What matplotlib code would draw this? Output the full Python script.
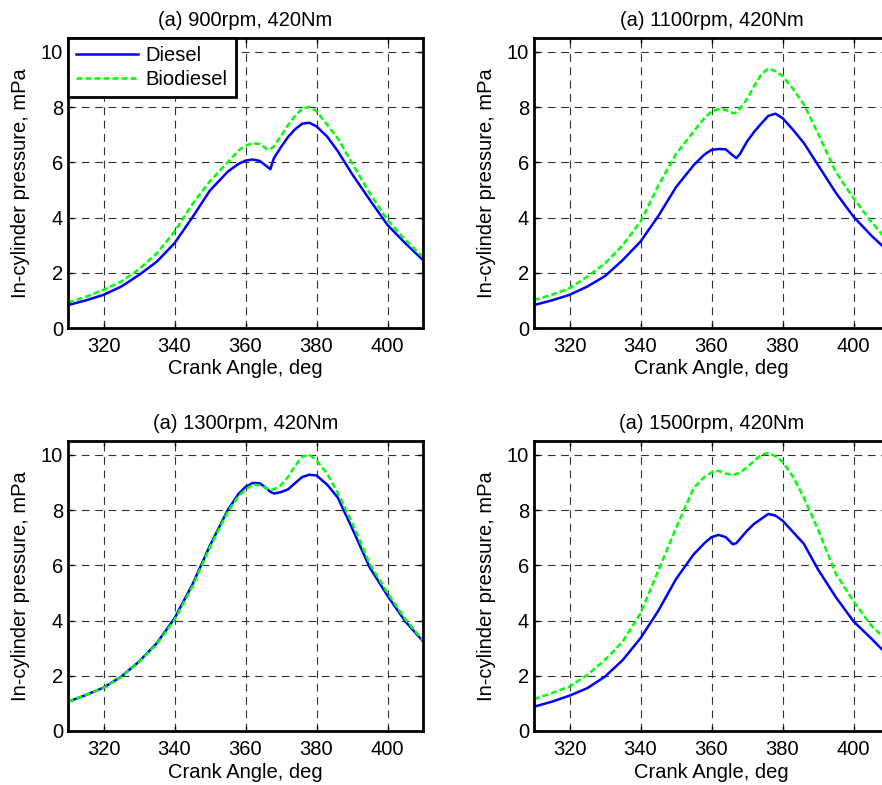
import matplotlib
matplotlib.use("Agg")
import matplotlib.pyplot as plt

plt.rcParams['font.family'] = ['Liberation Sans', 'DejaVu Sans']

# Crank angle grid (deg) shared by all traces
angle = [310, 315, 320, 325, 330, 335, 340, 345, 350, 355, 358, 360, 362, 364,
         366, 367, 368, 370, 372, 374, 376, 378, 380, 383, 386, 390, 395, 400,
         405, 410]

# In-cylinder pressure at 420 Nm for each engine speed
diesel_900 = [0.83, 1.00, 1.20, 1.50, 1.92, 2.40, 3.07, 4.00, 4.98, 5.66, 5.94,
              6.06, 6.10, 6.05, 5.85, 5.75, 6.15, 6.55, 6.92, 7.20, 7.40, 7.43,
              7.30, 6.93, 6.40, 5.58, 4.64, 3.73, 3.07, 2.46]
bio_900 = [0.92, 1.13, 1.38, 1.68, 2.13, 2.70, 3.49, 4.48, 5.32, 6.00, 6.42,
           6.60, 6.69, 6.66, 6.48, 6.47, 6.58, 6.95, 7.35, 7.68, 7.95, 8.00,
           7.85, 7.36, 6.87, 5.97, 4.88, 3.91, 3.19, 2.56]

diesel_1100 = [0.83, 1.00, 1.20, 1.50, 1.88, 2.46, 3.13, 4.05, 5.10, 5.90, 6.28,
               6.45, 6.48, 6.47, 6.25, 6.15, 6.30, 6.75, 7.10, 7.40, 7.68, 7.76,
               7.60, 7.17, 6.70, 5.90, 4.90, 4.03, 3.35, 2.75]
bio_1100 = [1.01, 1.20, 1.44, 1.86, 2.34, 3.00, 3.85, 5.15, 6.30, 7.12, 7.60,
            7.84, 7.92, 7.90, 7.78, 7.80, 7.95, 8.28, 8.76, 9.18, 9.40, 9.30,
            9.13, 8.65, 8.10, 7.05, 5.65, 4.70, 3.85, 3.10]

diesel_1300 = [1.06, 1.30, 1.57, 1.97, 2.51, 3.18, 4.08, 5.29, 6.72, 8.00, 8.58,
               8.84, 8.98, 8.97, 8.78, 8.66, 8.60, 8.65, 8.75, 8.98, 9.20, 9.28,
               9.25, 8.92, 8.45, 7.35, 5.92, 4.90, 3.97, 3.25]
bio_1300 = [1.05, 1.30, 1.56, 1.96, 2.50, 3.15, 4.02, 5.22, 6.66, 7.94, 8.50,
            8.74, 8.92, 8.90, 8.78, 8.73, 8.75, 8.90, 9.20, 9.60, 9.93, 10.00,
            9.80, 9.32, 8.62, 7.55, 6.05, 5.00, 4.05, 3.28]

diesel_1500 = [0.88, 1.06, 1.28, 1.55, 1.97, 2.57, 3.36, 4.35, 5.50, 6.40, 6.80,
               7.02, 7.10, 7.02, 6.76, 6.80, 6.95, 7.25, 7.50, 7.68, 7.86, 7.80,
               7.62, 7.20, 6.78, 5.85, 4.85, 3.97, 3.35, 2.70]
bio_1500 = [1.15, 1.37, 1.61, 2.03, 2.57, 3.24, 4.26, 5.80, 7.35, 8.80, 9.20,
            9.36, 9.42, 9.32, 9.27, 9.30, 9.35, 9.55, 9.78, 10.00, 10.06, 9.95,
            9.75, 9.20, 8.45, 7.30, 5.70, 4.70, 3.82, 3.20]

titles = ['(a) 900rpm, 420Nm', '(a) 1100rpm, 420Nm',
          '(a) 1300rpm, 420Nm', '(a) 1500rpm, 420Nm']
series = [(diesel_900, bio_900), (diesel_1100, bio_1100),
          (diesel_1300, bio_1300), (diesel_1500, bio_1500)]
x_ticks = [320, 340, 360, 380, 400]
y_ticks = [0, 2, 4, 6, 8, 10]

W, H = 882, 785
fig = plt.figure(figsize=(W / 100, H / 100), dpi=100)

# axes boxes in pixels: (left, bottom-edge y from top); right column runs past the edge
boxes = [(68, 328), (534, 328), (68, 731), (534, 731)]
ax_w, ax_h = 355, 290

FS = 14.5
for i, ((left, bottom), title, (dsl, bio)) in enumerate(zip(boxes, titles, series)):
    ax = fig.add_axes([left / W, (H - bottom) / H, ax_w / W, ax_h / H])
    ax.grid(True, color='#333333', linewidth=0.8, linestyle=(0, (7, 5)))
    ax.plot(angle, dsl, color='#0000ff', linewidth=1.8, label='Diesel',
            solid_joinstyle='round', zorder=3)
    ax.plot(angle, bio, color='#00ff00', linewidth=1.8, linestyle=(0, (2.4, 1.2)),
            label='Biodiesel', zorder=4)
    ax.set_xlim(310, 410)
    ax.set_ylim(0, 10.5)
    ax.set_xticks(x_ticks)
    ax.set_yticks(y_ticks)
    ax.tick_params(direction='in', length=3.5, width=1, top=True, right=True,
                   labelsize=FS)
    ax.tick_params(axis='x', pad=6.5)
    ax.tick_params(axis='y', pad=3.5)
    for sp in ax.spines.values():
        sp.set_linewidth(2)
        sp.set_zorder(5)
    ax.set_title(title, fontsize=FS, pad=8.5)
    ax.set_xlabel('Crank Angle, deg', fontsize=FS, labelpad=2.5)
    ax.set_ylabel('In-cylinder pressure, mPa', fontsize=FS, labelpad=8)
    if i == 0:
        leg = ax.legend(loc='upper left', borderaxespad=0, fancybox=False,
                        edgecolor='black', framealpha=1, fontsize=FS,
                        handlelength=3.1, handletextpad=0.35, borderpad=0.4,
                        labelspacing=0.25)
        leg.get_frame().set_linewidth(2)
        leg.set_zorder(6)

fig.savefig('out.png', dpi=100)
